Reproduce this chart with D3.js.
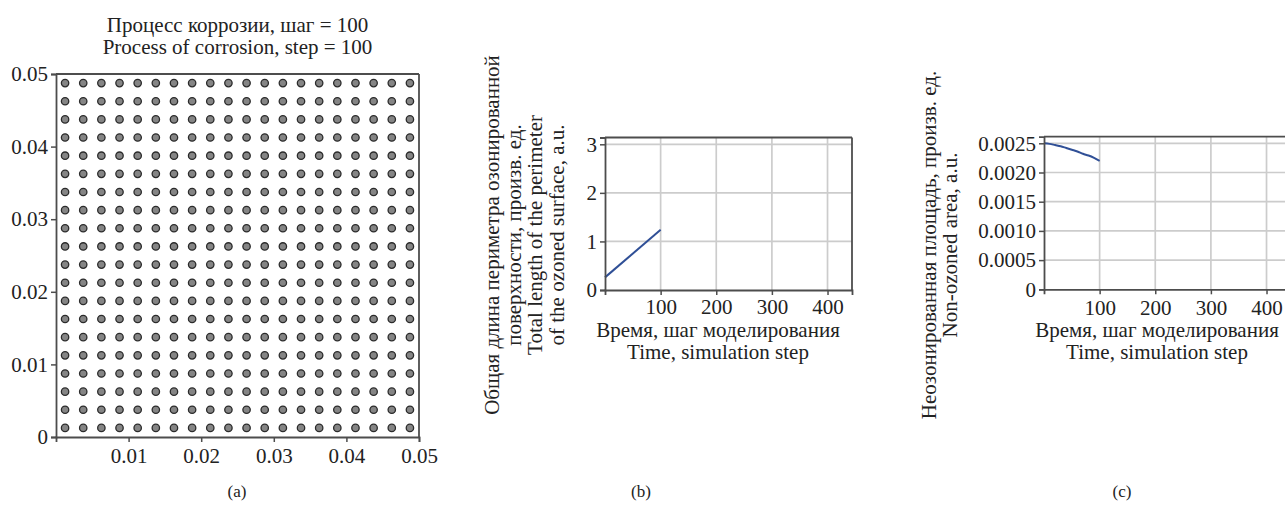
<!DOCTYPE html>
<html><head><meta charset="utf-8">
<script src="https://cdn.jsdelivr.net/npm/d3@7"></script>
<style>
html,body{margin:0;padding:0;background:#fff;}
svg{display:block;}
</style></head>
<body>
<script>
// ---------- DATA ----------
// Panel (a): grid of corrosion cells (cell centres along each axis)
const cellCentersX = [0.00125,0.00375,0.00625,0.00875,0.01125,0.01375,0.01625,0.01875,0.02125,0.02375,0.02625,0.02875,0.03125,0.03375,0.03625,0.03875,0.04125,0.04375,0.04625,0.04875];
const cellCentersY = [0.00125,0.00375,0.00625,0.00875,0.01125,0.01375,0.01625,0.01875,0.02125,0.02375,0.02625,0.02875,0.03125,0.03375,0.03625,0.03875,0.04125,0.04375,0.04625,0.04875];
const aYTicks = [0, 0.01, 0.02, 0.03, 0.04, 0.05];
const aXTicks = [0.01, 0.02, 0.03, 0.04, 0.05];

// Panel (b): perimeter length vs time
const bSteps = [0, 100];
const bPerimeter = [0.26, 1.24];
const bYTicks = [0, 1, 2, 3];
const bXTicks = [100, 200, 300, 400];

// Panel (c): non-ozoned area vs time
const cSteps = [0, 10, 20, 30, 40, 50, 60, 70, 80, 90, 100];
const cArea = [0.00250, 0.00249, 0.00247, 0.00245, 0.00242, 0.00239, 0.00236, 0.00232, 0.00229, 0.00225, 0.00220];
const cYTicks = [0, 0.0005, 0.0010, 0.0015, 0.0020, 0.0025];
const cXTicks = [100, 200, 300, 400];

const W = 1285, H = 507;
const FONT = "Liberation Serif";
const svg = d3.select("body").append("svg").attr("width", W).attr("height", H)
  .attr("font-family", FONT);

const AX = "#4d4d4d", GRID = "#cccccc", TICKFS = 21, LABFS = 21;

function txt(g, x, y, s, size, rot) {
  const t = g.append("text").attr("text-anchor", "middle")
    .attr("font-family", FONT).attr("font-size", size).attr("fill", "#222").text(s);
  if (rot) t.attr("transform", `translate(${x},${y}) rotate(-90)`);
  else t.attr("x", x).attr("y", y);
  return t;
}
function frame(g, x, y) {
  const [x0, x1] = x.range(), [y0, y1] = y.range();
  g.append("line").attr("x1", x0).attr("x2", x1).attr("y1", y1).attr("y2", y1)
    .attr("stroke", AX).attr("stroke-width", 1.8);
  g.append("line").attr("x1", x1).attr("x2", x1).attr("y1", y0).attr("y2", y1)
    .attr("stroke", AX).attr("stroke-width", 1.8);
}
function styleAxis(sel) {
  sel.attr("font-family", FONT).attr("font-size", TICKFS);
  sel.select(".domain").attr("stroke", AX).attr("stroke-width", 1.8);
  sel.selectAll(".tick line").attr("stroke", AX).attr("stroke-width", 1.5);
  sel.selectAll(".tick text").attr("fill", "#222");
}
function grid(g, x, y, xt, yt) {
  const [x0, x1] = x.range(), [y0, y1] = y.range();
  g.selectAll(null).data(xt).enter().append("line")
    .attr("x1", d => x(d)).attr("x2", d => x(d)).attr("y1", y0).attr("y2", y1)
    .attr("stroke", GRID).attr("stroke-width", 1.7);
  g.selectAll(null).data(yt.filter(d => d !== 0)).enter().append("line")
    .attr("x1", x0).attr("x2", x1).attr("y1", d => y(d)).attr("y2", d => y(d))
    .attr("stroke", GRID).attr("stroke-width", 1.7);
}

// ---------- Panel (a) ----------
{
  const x = d3.scaleLinear().domain([0, 0.05]).range([56, 419]);
  const y = d3.scaleLinear().domain([0, 0.05]).range([437, 74]);
  const g = svg.append("g");
  const fmt = d => d === 0 ? "0" : d3.format(".2f")(d);
  const cells = [];
  cellCentersY.forEach(cy => cellCentersX.forEach(cx => cells.push({cx, cy})));
  g.selectAll("circle").data(cells).enter().append("circle")
    .attr("cx", d => x(d.cx)).attr("cy", d => y(d.cy)).attr("r", 3.7)
    .attr("fill", "#858585").attr("stroke", "#2b2b2b").attr("stroke-width", 1.3);
  frame(g, x, y);
  g.append("g").attr("transform", "translate(0,437)")
    .call(d3.axisBottom(x).tickValues(aXTicks).tickFormat(fmt).tickSize(5).tickPadding(6)).call(styleAxis);
  g.append("g").attr("transform", "translate(56,0)")
    .call(d3.axisLeft(y).tickValues(aYTicks).tickFormat(fmt).tickSize(5).tickPadding(3)).call(styleAxis);
  txt(g, 237.5, 32, "Процесс коррозии, шаг = 100", LABFS);
  txt(g, 237.5, 54, "Process of corrosion, step = 100", LABFS);
  txt(g, 237, 497, "(a)", 17);
}

// ---------- Panel (b) ----------
{
  const x = d3.scaleLinear().domain([0, 444]).range([605, 852]);
  const y = d3.scaleLinear().domain([0, 3.14]).range([290, 137.5]);
  const g = svg.append("g");
  grid(g, x, y, bXTicks, bYTicks);
  frame(g, x, y);
  const line = d3.line().x((d, i) => x(bSteps[i])).y(d => y(d));
  g.append("path").datum(bPerimeter).attr("d", line)
    .attr("fill", "none").attr("stroke", "#2f4f96").attr("stroke-width", 2);
  g.append("g").attr("transform", "translate(0,290)")
    .call(d3.axisBottom(x).tickValues(bXTicks).tickFormat(d3.format("d")).tickSize(5).tickPadding(4)).call(styleAxis);
  g.append("g").attr("transform", "translate(605,0)")
    .call(d3.axisLeft(y).tickValues(bYTicks).tickFormat(d3.format("d")).tickSize(5).tickPadding(3)).call(styleAxis);
  const ylab = ["Общая длина периметра озонированной", "поверхности, произв. ед.",
                "Total length of the perimeter", "of the ozoned surface, a.u."];
  const ylx = [499, 520.5, 542, 563.5];
  ylab.forEach((t, i) => txt(g, ylx[i], 235, t, LABFS, true));
  txt(g, 718, 337, "Время, шаг моделирования", LABFS);
  txt(g, 718, 359, "Time, simulation step", LABFS);
  txt(g, 641, 497, "(b)", 17);
}

// ---------- Panel (c) ----------
{
  const x = d3.scaleLinear().domain([0, 444]).range([1044, 1291]);
  const y = d3.scaleLinear().domain([0, 0.002613]).range([289.3, 136.7]);
  const g = svg.append("g");
  grid(g, x, y, cXTicks, cYTicks);
  frame(g, x, y);
  const line = d3.line().x((d, i) => x(cSteps[i])).y(d => y(d)).curve(d3.curveMonotoneX);
  g.append("path").datum(cArea).attr("d", line)
    .attr("fill", "none").attr("stroke", "#2f4f96").attr("stroke-width", 2);
  const fmt = d => d === 0 ? "0" : d3.format(".4f")(d);
  g.append("g").attr("transform", "translate(0,289.3)")
    .call(d3.axisBottom(x).tickValues(cXTicks).tickFormat(d3.format("d")).tickSize(5).tickPadding(6)).call(styleAxis);
  g.append("g").attr("transform", "translate(1044,0)")
    .call(d3.axisLeft(y).tickValues(cYTicks).tickFormat(fmt).tickSize(5).tickPadding(3)).call(styleAxis);
  const ylab = ["Неозонированная площадь, произв. ед.", "Non-ozoned area, a.u."];
  const ylx = [936, 957];
  ylab.forEach((t, i) => txt(g, ylx[i], 245, t, LABFS, true));
  txt(g, 1157, 337, "Время, шаг моделирования", LABFS);
  txt(g, 1157, 359, "Time, simulation step", LABFS);
  txt(g, 1122, 497, "(c)", 17);
}
</script>
</body></html>
